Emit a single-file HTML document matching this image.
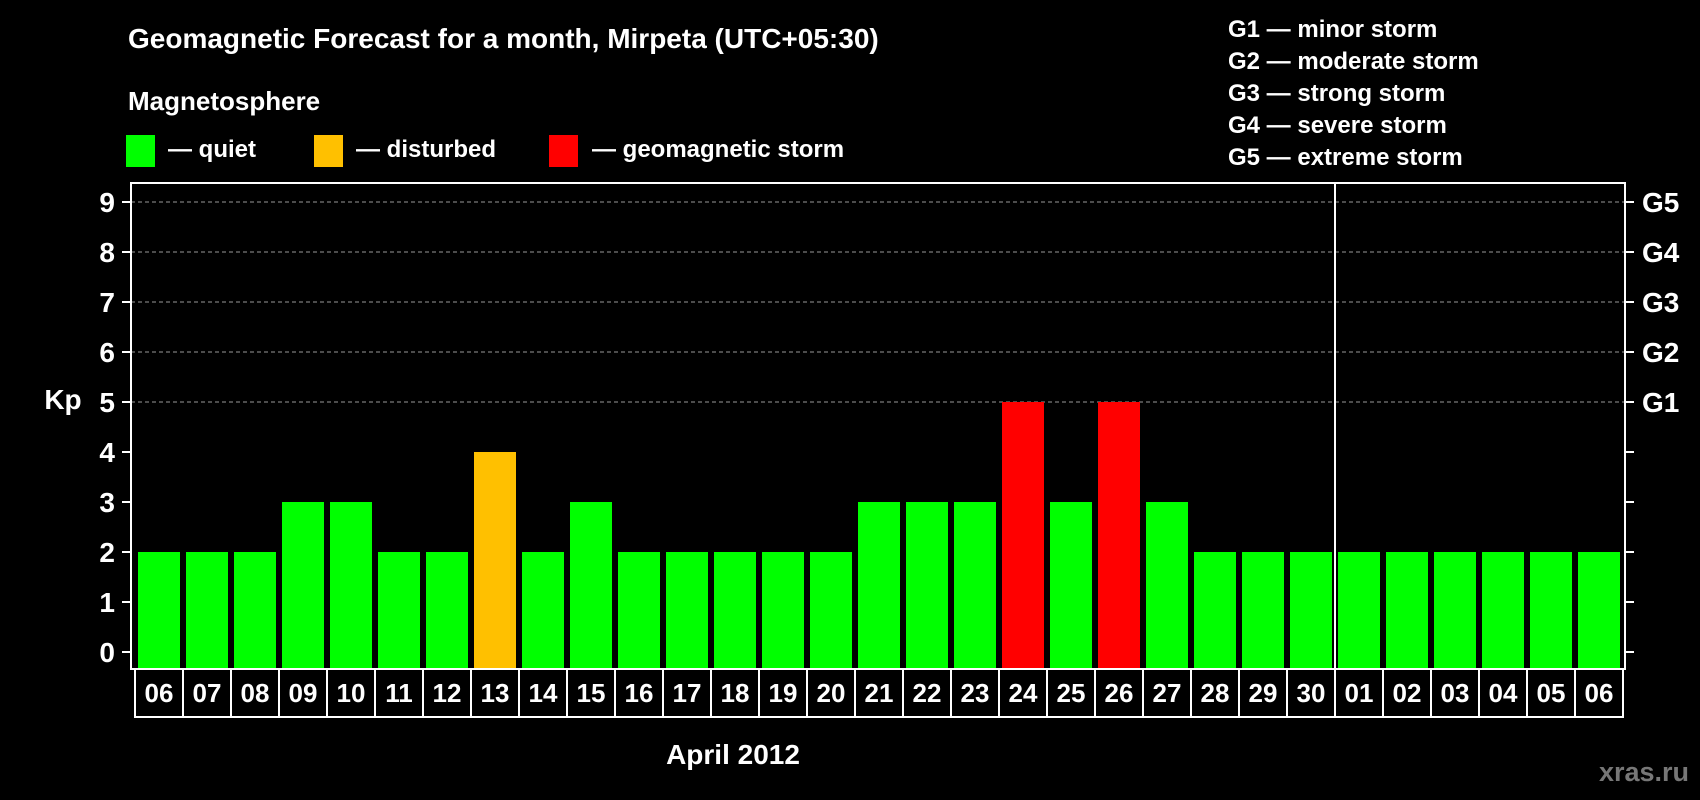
<!DOCTYPE html>
<html><head><meta charset="utf-8"><style>
html,body{margin:0;padding:0;background:#000;}
svg{display:block;font-family:"Liberation Sans",Arial,sans-serif;font-weight:bold;}
</style></head><body>
<svg id="chart" width="1700" height="800" viewBox="0 0 1700 800">
<rect x="0" y="0" width="1700" height="800" fill="#000"/>
<text x="128" y="48" fill="#fff" font-size="28">Geomagnetic Forecast for a month, Mirpeta (UTC+05:30)</text>
<text x="128" y="110" fill="#fff" font-size="26">Magnetosphere</text>
<g><rect x="126" y="135" width="29" height="32" fill="#00ff00"/><text x="168" y="157" fill="#fff" font-size="24">— quiet</text></g>
<g><rect x="314" y="135" width="29" height="32" fill="#ffc000"/><text x="356" y="157" fill="#fff" font-size="24">— disturbed</text></g>
<g><rect x="549" y="135" width="29" height="32" fill="#ff0000"/><text x="592" y="157" fill="#fff" font-size="24">— geomagnetic storm</text></g>
<g fill="#fff" font-size="24">
<text x="1228" y="37">G1 — minor storm</text>
<text x="1228" y="69">G2 — moderate storm</text>
<text x="1228" y="101">G3 — strong storm</text>
<text x="1228" y="133">G4 — severe storm</text>
<text x="1228" y="165">G5 — extreme storm</text>
</g>
<text x="63" y="409" fill="#fff" font-size="28" text-anchor="middle">Kp</text>
<text x="733" y="764" fill="#fff" font-size="28" text-anchor="middle">April 2012</text>
<text x="1689" y="781" fill="#777" font-size="27" text-anchor="end">xras.ru</text>
<g id="grid"></g><g id="bars"></g><g id="axes"></g><g id="labels"></g>
</svg>
<script>
const days = ["06","07","08","09","10","11","12","13","14","15","16","17","18","19","20","21","22","23","24","25","26","27","28","29","30","01","02","03","04","05","06"];
const kpValues = [2,2,2,3,3,2,2,4,2,3,2,2,2,2,2,3,3,3,5,3,5,3,2,2,2,2,2,2,2,2,2];
const yTicks = [0,1,2,3,4,5,6,7,8,9];
const gLabels = ["G1","G2","G3","G4","G5"];
const gLevels = [5,6,7,8,9];
const monthBreakIndex = 25;

const NS = "http://www.w3.org/2000/svg";
const L = 131, R = 1625, T = 183, B = 669, cellL = 135, cellW = 48, labelB = 717;
function y(v){ return 652 - 50 * v; }
function xCell(i){ return cellL + i * cellW; }
function mk(tag, attrs, parent){ const e = document.createElementNS(NS, tag); for (const k in attrs) e.setAttribute(k, attrs[k]); parent.appendChild(e); return e; }
function color(v){ return v >= 5 ? "#ff0000" : (v >= 4 ? "#ffc000" : "#00ff00"); }

const grid = document.getElementById("grid"), bars = document.getElementById("bars"), axes = document.getElementById("axes"), labels = document.getElementById("labels");
gLevels.forEach(v => {
  const l = mk("line", {x1:L, x2:R, y1:y(v), y2:y(v), stroke:"#999", "stroke-width":1, "stroke-dasharray":"4,3"}, grid);
  
  
});
kpValues.forEach((v, i) => {
  const r = mk("rect", {x:xCell(i)+3, y:y(v), width:42, height:B - y(v), fill:color(v)}, bars);
  
  
});
const frame = mk("rect", {x:L, y:T, width:R-L, height:B-T, fill:"none", stroke:"#fff", "stroke-width":2}, axes);


const sep = mk("line", {x1:xCell(monthBreakIndex), x2:xCell(monthBreakIndex), y1:T, y2:B, stroke:"#fff", "stroke-width":2}, axes);


yTicks.forEach(v => {
  const t1 = mk("line", {x1:L-9, x2:L, y1:y(v), y2:y(v), stroke:"#fff", "stroke-width":2}, axes);
  
  
  const t2 = mk("line", {x1:R, x2:R+9, y1:y(v), y2:y(v), stroke:"#fff", "stroke-width":2}, axes);
  
  
  const tx = mk("text", {x:115, y:y(v)+10, fill:"#fff", "font-size":28, "text-anchor":"end"}, labels);
  tx.textContent = v;
  
  
});
gLabels.forEach((g, i) => {
  const tx = mk("text", {x:1642, y:y(gLevels[i])+10, fill:"#fff", "font-size":28}, labels);
  tx.textContent = g;
  
  
});
days.forEach((d, i) => {
  const c = mk("rect", {x:xCell(i), y:B, width:cellW, height:labelB-B, fill:"none", stroke:"#fff", "stroke-width":2}, labels);
  
  
  const tx = mk("text", {x:xCell(i)+cellW/2, y:702, fill:"#fff", "font-size":26, "text-anchor":"middle"}, labels);
  tx.textContent = d;
  
  
});
</script>
</body></html>
